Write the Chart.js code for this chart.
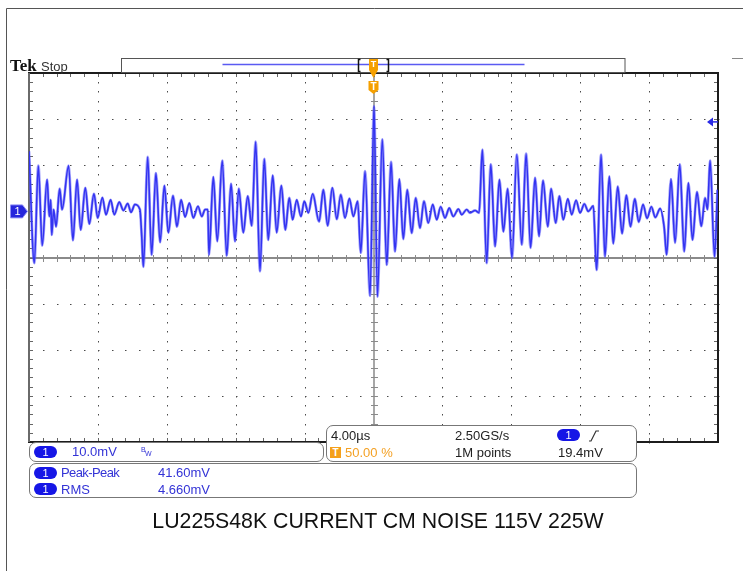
<!DOCTYPE html>
<html>
<head>
<meta charset="utf-8">
<script src="https://cdn.jsdelivr.net/npm/chart.js@4.4.1/dist/chart.umd.min.js"></script>
<style>
  html, body { margin: 0; padding: 0; background: #fff; }
  #wrap { position: relative; width: 743px; height: 571px; overflow: hidden; font-family: "Liberation Sans", Arial, sans-serif; }
  #scope { position: absolute; left: 0; top: 0; }
  .t { position: absolute; white-space: nowrap; line-height: 1; font-size: 13px; }
  .blue { color: #3333d6; }
  .dark { color: #222; }
  .box { position: absolute; border: 1.5px solid #777; border-radius: 7px; background: #fff; box-sizing: border-box; }
  .pill { position: absolute; width: 23px; height: 12px; border-radius: 6px; background: #1616e6; color: #fff; font-size: 11px; line-height: 12px; text-align: center; }
</style>
</head>
<body>
<div id="wrap">
  <canvas id="scope" width="743" height="571"></canvas>

  <div class="t" style="left:10px;top:57px;font-family:'Liberation Serif','Times New Roman',serif;font-weight:bold;font-size:17px;color:#111;">Tek</div>
  <div class="t" style="left:41px;top:60px;color:#333;">Stop</div>

  <!-- vertical / channel box -->
  <div class="box" style="left:29px;top:442px;width:295px;height:20px;"></div>
  <div class="pill" style="left:34px;top:446px;">1</div>
  <div class="t blue" id="vScale" style="left:72px;top:445px;"></div>
  <div class="t blue" style="left:141px;top:446px;font-size:7px;">B</div>
  <div class="t blue" style="left:145px;top:450px;font-size:7px;">W</div>

  <!-- horizontal / trigger box -->
  <div class="box" style="left:326px;top:425px;width:311px;height:37px;"></div>
  <div class="t dark" id="hScale" style="left:331px;top:429px;"></div>
  <div class="t dark" id="rate" style="left:455px;top:429px;"></div>
  <div class="pill" style="left:557px;top:429px;">1</div>
  <svg style="position:absolute;left:588px;top:430px;" width="12" height="12"><polyline points="1,11 3,11 8,1 11,1" fill="none" stroke="#333" stroke-width="1.2"/></svg>
  <div style="position:absolute;left:330px;top:447px;width:11px;height:11px;background:#f5a01a;color:#fff;font-size:10px;font-weight:bold;line-height:11px;text-align:center;">T</div>
  <div class="t" id="trigPos" style="left:345px;top:446px;color:#f4a124;"></div>
  <div class="t dark" id="recLen" style="left:455px;top:446px;"></div>
  <div class="t dark" id="trigLvl" style="left:558px;top:446px;"></div>

  <!-- measurements box -->
  <div class="box" style="left:29px;top:463px;width:608px;height:35px;"></div>
  <div class="pill" style="left:34px;top:467px;">1</div>
  <div class="pill" style="left:34px;top:483px;">1</div>
  <div class="t blue" id="m0n" style="left:61px;top:466px;letter-spacing:-0.6px;"></div>
  <div class="t blue" id="m0v" style="left:158px;top:466px;"></div>
  <div class="t blue" id="m1n" style="left:61px;top:483px;"></div>
  <div class="t blue" id="m1v" style="left:158px;top:483px;"></div>

  <div class="t" id="caption" style="left:0;width:756px;text-align:center;top:511px;font-size:21.3px;color:#111;"></div>
</div>

<script>
// ---- readings ----
const timeUs = [
  -20.00, -19.69, -19.46, -19.23, -18.95, -18.82, -18.74, -18.68, -18.57, -18.43,
  -18.22, -18.08, -17.70, -17.45, -17.21, -17.00, -16.73, -16.50, -16.23, -16.01,
  -15.74, -15.53, -15.26, -15.05, -14.76, -14.52, -14.27, -14.08, -13.85, -13.56,
  -13.46, -13.36, -13.11, -12.88, -12.63, -12.39, -12.14, -11.91, -11.64, -11.41,
  -11.17, -10.94, -10.69, -10.46, -10.19, -9.97, -9.78, -9.62, -9.55, -9.30,
  -9.07, -8.78, -8.52, -8.27, -8.04, -7.82, -7.56, -7.30, -7.07, -6.84,
  -6.59, -6.34, -6.11, -5.85, -5.62, -5.35, -5.12, -4.89, -4.69, -4.46,
  -4.21, -4.02, -3.78, -3.53, -3.16, -2.91, -2.66, -2.39, -2.13, -1.90,
  -1.65, -1.40, -1.17, -0.92, -0.74, -0.49, -0.20, 0.03, 0.23, 0.51,
  0.77, 1.02, 1.25, 1.50, 1.73, 1.96, 2.22, 2.45, 2.70, 2.93,
  3.18, 3.44, 3.67, 3.90, 4.15, 4.40, 4.63, 4.93, 5.12, 5.41,
  5.60, 5.90, 6.13, 6.32, 6.57, 6.81, 7.06, 7.31, 7.54, 7.79,
  8.04, 8.32, 8.61, 8.86, 9.12, 9.38, 9.61, 9.84, 10.12, 10.31,
  10.58, 10.79, 11.02, 11.28, 11.51, 11.76, 11.99, 12.24, 12.47, 12.76,
  12.90, 12.96, 13.21, 13.44, 13.69, 13.92, 14.18, 14.43, 14.68, 14.92,
  15.17, 15.40, 15.65, 15.88, 16.13, 16.36, 16.64, 16.87, 17.02, 17.27,
  17.51, 17.78, 18.04, 18.28, 18.52, 18.78, 19.03, 19.25, 19.39, 19.54,
  19.80, 19.97
];
const noiseMv = [
  13.0, -11.2, 9.9, -7.4, 6.9, -1.1, 2.5, -5.1, 0.4, -3.3,
  4.9, 0.4, 9.9, -6.3, 6.9, -4.0, 5.1, -2.7, 3.8, -1.4,
  3.0, -0.7, 2.5, -0.7, 2.0, 0.2, 1.7, -0.2, 1.5, 0.4,
  -5.1, -12.0, 11.8, -9.4, 8.3, -6.7, 5.6, -4.6, 3.4, -3.3,
  2.5, -1.2, 1.8, -1.4, 1.1, -1.1, 0.4, 0.4, -9.4, 7.5,
  -6.5, 11.0, -9.6, 6.0, -6.5, 4.9, -4.6, 3.3, -3.1, 15.1,
  -13.0, 11.4, -6.2, 7.8, -4.6, 5.6, -4.0, 2.9, -1.8, 2.5,
  -1.1, 2.2, -0.3, 3.8, -2.2, 4.7, -3.1, 5.1, -1.7, 3.6,
  -1.4, 2.8, -1.1, 2.2, -9.0, 8.7, -18.3, 22.8, -18.5, 15.6,
  -11.6, 10.7, -8.7, 7.0, -6.0, 4.7, -4.7, 2.9, -3.6, 2.2,
  -2.5, 1.5, -1.8, 1.0, -1.4, 0.7, -1.1, 0.5, -0.7, 0.4,
  -0.3, 0.2, -0.3, 13.4, -11.2, 10.2, -7.6, 6.9, -4.4, 4.9,
  -10.1, 12.3, -7.2, 12.5, -7.9, 7.3, -5.4, 6.7, -3.3, 4.9,
  -2.5, 3.3, -1.8, 2.7, -0.7, 2.4, -0.3, 1.6, 0.0, 1.2,
  -9.8, -12.7, 12.3, -9.8, 7.6, -7.0, 5.4, -4.8, 3.5, -3.3,
  2.7, -2.3, 1.5, -1.5, 1.0, -1.3, 0.6, -3.3, -9.4, 7.0,
  -6.8, 10.2, -8.7, 6.2, -6.2, 4.2, -3.2, 2.9, 0.4, 11.0,
  -9.8, 4.7
];

const voltsPerDiv = '10.0mV';
const timePerDiv = '4.00\u00b5s';
const sampleRate = '2.50GS/s';
const recordLength = '1M points';
const triggerPosition = '50.00 %';
const triggerLevelMv = 19.4;
const measureNames = ['Peak-Peak', 'RMS'];
const measureValues = ['41.60mV', '4.660mV'];
const caption = 'LU225S48K CURRENT CM NOISE 115V 225W';

// screen: 10 x 4us, 8 x 10mV with ground one division above centre
const X_MIN = -20, X_MAX = 20, X_DIV = 4;
const Y_MIN = -50, Y_MAX = 30, Y_DIV = 10;
const MINOR = 5;

document.getElementById('vScale').textContent = voltsPerDiv;
document.getElementById('hScale').textContent = timePerDiv;
document.getElementById('rate').textContent = sampleRate;
document.getElementById('recLen').textContent = recordLength;
document.getElementById('trigPos').textContent = triggerPosition;
document.getElementById('trigLvl').textContent = triggerLevelMv.toFixed(1) + 'mV';
document.getElementById('m0n').textContent = measureNames[0];
document.getElementById('m0v').textContent = measureValues[0];
document.getElementById('m1n').textContent = measureNames[1];
document.getElementById('m1v').textContent = measureValues[1];
document.getElementById('caption').textContent = caption;

function seg(ctx, x1, y1, x2, y2) {
  ctx.beginPath(); ctx.moveTo(x1, y1); ctx.lineTo(x2, y2); ctx.stroke();
}

const graticule = {
  id: 'graticule',
  beforeDatasetsDraw(chart) {
    const { ctx, chartArea: a, scales: { x, y } } = chart;
    const xs = [], ys = [];
    for (let i = 0; i <= 50; i++) xs.push(Math.round(x.getPixelForValue(X_MIN + i * X_DIV / MINOR)));
    for (let j = 0; j <= 40; j++) ys.push(Math.round(y.getPixelForValue(Y_MIN + j * Y_DIV / MINOR)));
    const cx = Math.round(x.getPixelForValue(0));
    const cy = Math.round(y.getPixelForValue(-10));
    ctx.save();

    // dotted division lines
    ctx.fillStyle = '#4a4a4a';
    for (let i = 5; i < 50; i += 5) {
      if (i === 25) continue;
      ys.forEach(py => ctx.fillRect(xs[i], py, 1, 1.5));
    }
    for (let j = 5; j < 40; j += 5) {
      if (j === 20) continue;
      xs.forEach(px => ctx.fillRect(px, ys[j], 1.5, 1));
    }

    // centre cross with minor ticks
    ctx.strokeStyle = '#8a8a8a';
    ctx.lineWidth = 2;
    seg(ctx, a.left, cy, a.right, cy);
    ctx.lineWidth = 1.5;
    seg(ctx, cx, a.top, cx, a.bottom);
    ctx.lineWidth = 1;
    xs.forEach(px => seg(ctx, px + 0.5, cy - 3, px + 0.5, cy + 4));
    ys.forEach(py => seg(ctx, cx - 3, py + 0.5, cx + 4, py + 0.5));

    // edge ticks
    ctx.strokeStyle = '#666';
    xs.forEach(px => { seg(ctx, px + 0.5, a.top, px + 0.5, a.top + 4); seg(ctx, px + 0.5, a.bottom - 4, px + 0.5, a.bottom); });
    ys.forEach(py => { seg(ctx, a.left, py + 0.5, a.left + 4, py + 0.5); seg(ctx, a.right - 4, py + 0.5, a.right, py + 0.5); });

    // frame
    ctx.lineWidth = 2;
    ctx.strokeStyle = '#1c1c1c';
    seg(ctx, a.left - 1, a.top, a.right + 1, a.top);
    seg(ctx, a.left - 1, a.bottom, a.right + 1, a.bottom);
    seg(ctx, a.right, a.top, a.right, a.bottom);
    ctx.strokeStyle = '#6a6a6a';
    seg(ctx, a.left, a.top, a.left, a.bottom);
    ctx.restore();
  },
  afterDraw(chart) {
    const { ctx, chartArea: a, scales: { x, y } } = chart;
    const cx = x.getPixelForValue(0);
    ctx.save();

    // outer page frame
    ctx.strokeStyle = '#555';
    ctx.lineWidth = 1;
    seg(ctx, 6.5, 8.5, 743, 8.5);
    seg(ctx, 6.5, 8.5, 6.5, 571);
    ctx.strokeStyle = '#888';
    seg(ctx, 732, 58.5, 743, 58.5);

    // record bar
    ctx.strokeStyle = '#555';
    ctx.strokeRect(121.5, 58.5, 503.5, 14);
    ctx.strokeStyle = '#5a5af2';
    ctx.lineWidth = 1.5;
    seg(ctx, 222.5, 64.5, 524.5, 64.5);
    ctx.strokeStyle = '#111';
    ctx.lineWidth = 1.5;
    ctx.beginPath();
    ctx.moveTo(360.5, 59.5); ctx.lineTo(358.5, 59.5); ctx.lineTo(358.5, 71.5); ctx.lineTo(360.5, 71.5);
    ctx.moveTo(386.5, 59.5); ctx.lineTo(388.5, 59.5); ctx.lineTo(388.5, 71.5); ctx.lineTo(386.5, 71.5);
    ctx.stroke();

    // trigger position markers
    ctx.fillStyle = '#f5a000';
    ctx.beginPath();
    ctx.moveTo(cx - 4.5, 59); ctx.lineTo(cx + 4.5, 59); ctx.lineTo(cx + 4.5, 70);
    ctx.lineTo(cx, 78); ctx.lineTo(cx - 4.5, 70); ctx.closePath(); ctx.fill();
    ctx.beginPath();
    ctx.moveTo(cx - 5, 81); ctx.lineTo(cx + 5, 81); ctx.lineTo(cx + 5, 90);
    ctx.lineTo(cx, 94); ctx.lineTo(cx - 5, 90); ctx.closePath(); ctx.fill();
    ctx.fillStyle = '#fff';
    ctx.font = 'bold 9px "Liberation Sans", Arial, sans-serif';
    ctx.textAlign = 'center';
    ctx.textBaseline = 'middle';
    ctx.fillText('T', cx, 65);
    ctx.font = 'bold 10px "Liberation Sans", Arial, sans-serif';
    ctx.fillText('T', cx, 87);

    // channel 1 ground marker
    const gy = y.getPixelForValue(0);
    ctx.fillStyle = '#2626dc';
    ctx.strokeStyle = '#8f8ff5';
    ctx.lineWidth = 1;
    ctx.beginPath();
    ctx.moveTo(10.5, gy - 6.5); ctx.lineTo(22.5, gy - 6.5); ctx.lineTo(27.5, gy);
    ctx.lineTo(22.5, gy + 6.5); ctx.lineTo(10.5, gy + 6.5); ctx.closePath();
    ctx.fill(); ctx.stroke();
    ctx.fillStyle = '#fff';
    ctx.font = '11px "Liberation Sans", Arial, sans-serif';
    ctx.fillText('1', 17.5, gy + 0.5);

    // trigger level arrow
    const ty = y.getPixelForValue(triggerLevelMv);
    ctx.fillStyle = '#2a2ae6';
    ctx.beginPath();
    ctx.moveTo(a.right - 11, ty); ctx.lineTo(a.right - 5, ty - 4.5); ctx.lineTo(a.right - 5, ty + 4.5);
    ctx.closePath(); ctx.fill();
    ctx.strokeStyle = '#2a2ae6';
    ctx.lineWidth = 1.5;
    seg(ctx, a.right - 6, ty, a.right, ty);
    ctx.restore();
  }
};

const points = timeUs.map((t, i) => ({ x: t, y: noiseMv[i] }));

new Chart(document.getElementById('scope').getContext('2d'), {
  type: 'line',
  data: {
    datasets: [
      {
        label: 'halo',
        data: points,
        borderColor: 'rgba(90,90,250,0.55)',
        borderWidth: 2.8,
        pointRadius: 0,
        cubicInterpolationMode: 'monotone',
      },
      {
        label: 'CH1',
        data: points,
        borderColor: '#0606e6',
        borderWidth: 1.6,
        pointRadius: 0,
        cubicInterpolationMode: 'monotone',
      },
    ],
  },
  options: {
    responsive: false,
    animation: false,
    events: [],
    layout: { padding: { left: 29, top: 73, right: 25, bottom: 129 } },
    plugins: { legend: { display: false }, tooltip: { enabled: false }, title: { display: false } },
    scales: {
      x: { type: 'linear', min: X_MIN, max: X_MAX, display: false },
      y: { type: 'linear', min: Y_MIN, max: Y_MAX, display: false },
    },
  },
  plugins: [graticule],
});
</script>
</body>
</html>
